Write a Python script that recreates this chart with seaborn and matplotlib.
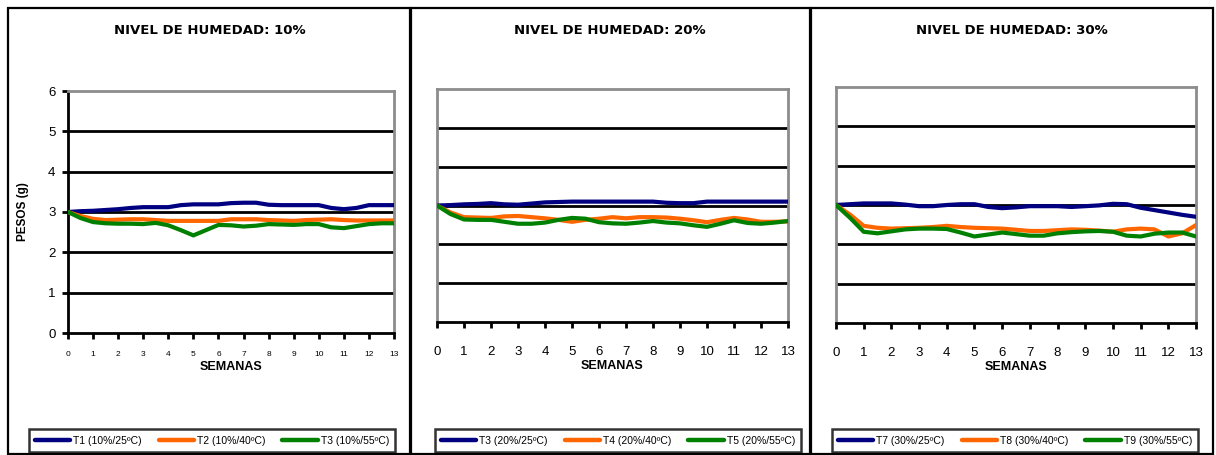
import numpy as np
import pandas as pd
import matplotlib
matplotlib.use("Agg")
import matplotlib.pyplot as plt
import seaborn as sns
from matplotlib.patches import Rectangle
from matplotlib.lines import Line2D

# ---------------- data ----------------
semanas = [i * 0.5 for i in range(27)]  # 0, 0.5, ..., 13
week_ticks = list(range(14))

titles = ["NIVEL DE HUMEDAD: 10%", "NIVEL DE HUMEDAD: 20%", "NIVEL DE HUMEDAD: 30%"]

labels_10 = ["T1 (10%/25ºC)", "T2 (10%/40ºC)", "T3 (10%/55ºC)"]
labels_20 = ["T3 (20%/25ºC)", "T4 (20%/40ºC)", "T5 (20%/55ºC)"]
labels_30 = ["T7 (30%/25ºC)", "T8 (30%/40ºC)", "T9 (30%/55ºC)"]

t1 = [3.00, 3.02, 3.03, 3.05, 3.07, 3.10, 3.12, 3.12, 3.12, 3.17, 3.19, 3.19, 3.19, 3.22,
      3.23, 3.23, 3.18, 3.17, 3.17, 3.17, 3.17, 3.10, 3.07, 3.10, 3.17, 3.17, 3.17]
t2 = [3.00, 2.90, 2.83, 2.80, 2.81, 2.82, 2.82, 2.80, 2.78, 2.78, 2.78, 2.78, 2.78, 2.82,
      2.82, 2.82, 2.80, 2.79, 2.78, 2.80, 2.81, 2.82, 2.80, 2.79, 2.79, 2.79, 2.79]
t3 = [3.00, 2.85, 2.75, 2.72, 2.71, 2.71, 2.70, 2.73, 2.67, 2.55, 2.42, 2.55, 2.68, 2.67,
      2.64, 2.66, 2.70, 2.69, 2.68, 2.70, 2.70, 2.62, 2.60, 2.65, 2.70, 2.72, 2.72]

t3b = [3.00, 3.01, 3.03, 3.04, 3.06, 3.03, 3.02, 3.05, 3.08, 3.09, 3.10, 3.10, 3.10, 3.10,
       3.10, 3.10, 3.10, 3.07, 3.06, 3.06, 3.10, 3.10, 3.10, 3.10, 3.10, 3.10, 3.10]
t4 = [3.00, 2.82, 2.70, 2.69, 2.68, 2.72, 2.73, 2.70, 2.67, 2.63, 2.58, 2.63, 2.66, 2.70,
      2.67, 2.70, 2.70, 2.69, 2.66, 2.62, 2.57, 2.63, 2.68, 2.64, 2.58, 2.58, 2.59]
t5 = [3.00, 2.78, 2.64, 2.63, 2.63, 2.58, 2.53, 2.53, 2.56, 2.63, 2.68, 2.66, 2.57, 2.54,
      2.53, 2.56, 2.60, 2.56, 2.54, 2.49, 2.45, 2.53, 2.62, 2.55, 2.53, 2.56, 2.60]

t7 = [3.00, 3.02, 3.04, 3.04, 3.04, 3.01, 2.97, 2.97, 3.00, 3.02, 3.02, 2.95, 2.92, 2.94,
      2.97, 2.97, 2.97, 2.95, 2.97, 2.99, 3.03, 3.02, 2.93, 2.87, 2.81, 2.75, 2.70]
t8 = [3.00, 2.76, 2.47, 2.42, 2.40, 2.41, 2.42, 2.44, 2.47, 2.44, 2.42, 2.41, 2.40, 2.37,
      2.34, 2.34, 2.36, 2.38, 2.37, 2.35, 2.32, 2.38, 2.40, 2.38, 2.20, 2.28, 2.49]
t9 = [3.00, 2.68, 2.32, 2.28, 2.33, 2.38, 2.40, 2.40, 2.39, 2.30, 2.20, 2.25, 2.30, 2.26,
      2.22, 2.22, 2.28, 2.31, 2.33, 2.34, 2.32, 2.22, 2.20, 2.27, 2.30, 2.30, 2.20]

series = [(labels_10, [t1, t2, t3]), (labels_20, [t3b, t4, t5]), (labels_30, [t7, t8, t9])]
colors = ["#000080", "#FF6600", "#008000"]

# ---------------- figure ----------------
sns.set_theme(style="white")
plt.rcParams["font.family"] = ["Liberation Sans", "DejaVu Sans"]
plt.rcParams["text.color"] = "black"
plt.rcParams["axes.labelcolor"] = "black"
plt.rcParams["xtick.color"] = "black"
plt.rcParams["ytick.color"] = "black"

W, H = 1216, 455
fig = plt.figure(figsize=(W / 100, H / 100), dpi=100)
fig.patch.set_facecolor("white")


def px_rect(x0, y0, x1, y1):
    return [x0 / W, 1 - y1 / H, (x1 - x0) / W, (y1 - y0) / H]


# panel frames
for (x0, x1) in [(8, 410), (411, 810), (811, 1213)]:
    fig.add_artist(Rectangle((x0 / W, 1 - 454 / H), (x1 - x0) / W, (454 - 8) / H,
                             transform=fig.transFigure, fill=False,
                             edgecolor="black", linewidth=1.6))

axes_px = [(68, 91, 394, 333), (437, 89, 788, 322), (836, 87, 1196, 323)]
title_x = [210, 610, 1012]
legend_px = [(24, 428, 400, 453), (430, 428, 806, 453), (822, 428, 1208, 453)]

for i, ((labs, vals), rect) in enumerate(zip(series, axes_px)):
    ax = fig.add_axes(px_rect(*rect))
    df = pd.DataFrame({"SEMANAS": semanas * 3,
                       "PESOS": vals[0] + vals[1] + vals[2],
                       "Serie": [labs[0]] * 27 + [labs[1]] * 27 + [labs[2]] * 27})
    sns.lineplot(data=df, x="SEMANAS", y="PESOS", hue="Serie", palette=colors,
                 linewidth=3.0, ax=ax, legend=False, zorder=3)
    ax.set_xlim(0, 13)
    ax.set_ylim(0, 6)
    ax.set_yticks([0, 1, 2, 3, 4, 5, 6])
    ax.set_xticks(week_ticks)
    for y in [1, 2, 3, 4, 5]:
        ax.axhline(y, color="black", linewidth=2.0, zorder=1)
    for s in ["top", "right", "left"]:
        ax.spines[s].set_color("#8c8c8c")
        ax.spines[s].set_linewidth(2.0)
    ax.spines["bottom"].set_color("black")
    ax.spines["bottom"].set_linewidth(2.0)
    ax.tick_params(axis="x", which="major", direction="out", length=4, width=2,
                   color="black", bottom=True)
    ax.set_xlabel("SEMANAS", fontsize=9, fontweight="bold", color="black", labelpad=2)
    if i == 0:
        ax.spines["left"].set_color("black")
        ax.tick_params(axis="x", labelsize=6, pad=9)
        ax.tick_params(axis="y", direction="out", length=4, width=2, color="black",
                       left=True, labelsize=9.5, pad=5)
        ax.set_ylabel("PESOS (g)", fontsize=8.5, fontweight="bold", labelpad=14)
    else:
        ax.tick_params(axis="x", labelsize=9.5, pad=13)
        ax.set_yticklabels([])
        ax.tick_params(axis="y", left=False)
        ax.set_ylabel("")
    ax.set_facecolor("white")

    fig.text(title_x[i] / W, 1 - 31 / H, titles[i], ha="center", va="center",
             fontsize=9.5, fontweight="bold", family=["DejaVu Sans"], color="black")

    lx0, ly0, lx1, ly1 = legend_px[i]
    handles = [Line2D([], [], color=c, linewidth=3.2, solid_capstyle="round") for c in colors]
    leg = fig.legend(handles, labs, loc="center",
                     bbox_to_anchor=((lx0 + lx1) / 2 / W, 1 - (ly0 + ly1) / 2 / H),
                     ncol=3, frameon=True, handlelength=3.4,
                     handletextpad=0.3, columnspacing=1.6, borderpad=0.6,
                     fancybox=False,
                     prop={"family": ["Liberation Sans Narrow", "Liberation Sans"], "size": 7.5})
    leg.get_frame().set_edgecolor("black")
    leg.get_frame().set_linewidth(1.8)

fig.savefig("out.png", dpi=100, facecolor="white")
